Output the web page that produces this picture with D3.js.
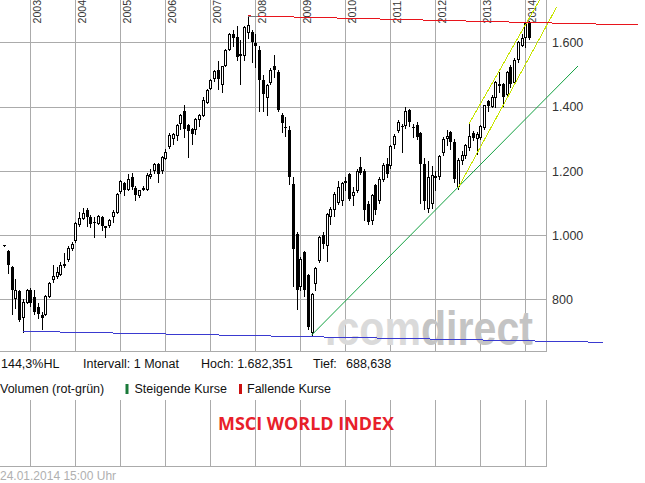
<!DOCTYPE html>
<html><head><meta charset="utf-8">
<script src="https://cdn.jsdelivr.net/npm/d3@7/dist/d3.min.js"></script>
<style>body{margin:0;background:#fff}svg{display:block}</style>
</head><body>
<svg id="c" width="645" height="483"></svg>
<script>
// ---- data ----
const months = ["2002-05","2002-06","2002-07","2002-08","2002-09","2002-10","2002-11","2002-12",
"2003-01","2003-02","2003-03","2003-04","2003-05","2003-06","2003-07","2003-08","2003-09","2003-10","2003-11","2003-12",
"2004-01","2004-02","2004-03","2004-04","2004-05","2004-06","2004-07","2004-08","2004-09","2004-10","2004-11","2004-12",
"2005-01","2005-02","2005-03","2005-04","2005-05","2005-06","2005-07","2005-08","2005-09","2005-10","2005-11","2005-12",
"2006-01","2006-02","2006-03","2006-04","2006-05","2006-06","2006-07","2006-08","2006-09","2006-10","2006-11","2006-12",
"2007-01","2007-02","2007-03","2007-04","2007-05","2007-06","2007-07","2007-08","2007-09","2007-10","2007-11","2007-12",
"2008-01","2008-02","2008-03","2008-04","2008-05","2008-06","2008-07","2008-08","2008-09","2008-10","2008-11","2008-12",
"2009-01","2009-02","2009-03","2009-04","2009-05","2009-06","2009-07","2009-08","2009-09","2009-10","2009-11","2009-12",
"2010-01","2010-02","2010-03","2010-04","2010-05","2010-06","2010-07","2010-08","2010-09","2010-10","2010-11","2010-12",
"2011-01","2011-02","2011-03","2011-04","2011-05","2011-06","2011-07","2011-08","2011-09","2011-10","2011-11","2011-12",
"2012-01","2012-02","2012-03","2012-04","2012-05","2012-06","2012-07","2012-08","2012-09","2012-10","2012-11","2012-12",
"2013-01","2013-02","2013-03","2013-04","2013-05","2013-06","2013-07","2013-08","2013-09","2013-10","2013-11","2013-12",
"2014-01"];
const opens = [968,952,900,805,826,745,792,830,
806,776,752,755,812,862,872,880,908,925,961,984,
1036,1053,1079,1056,1042,1039,1058,1028,1033,1059,1072,1136,
1162,1145,1181,1148,1124,1146,1145,1183,1202,1222,1202,1241,
1277,1303,1313,1349,1386,1342,1331,1331,1362,1373,1414,1459,
1490,1513,1470,1531,1580,1627,1616,1562,1560,1632,1632,1598,
1577,1482,1430,1476,1528,1508,1373,1338,1326,1160,1004,843,
947,875,700,852,923,999,970,1061,1082,1103,1110,1168,
1191,1124,1139,1212,1201,1098,1048,1155,1108,1175,1222,1217,
1285,1326,1340,1342,1390,1338,1342,1317,1221,1085,1100,1180,
1183,1259,1303,1321,1290,1152,1235,1248,1274,1317,1303,1307,
1336,1419,1401,1430,1471,1471,1440,1523,1477,1549,1591,1616,
1660];
const highs = [969,955,903,862,830,800,833,834,
828,789,762,814,855,906,901,916,944,966,978,1040,
1072,1085,1085,1062,1056,1064,1060,1030,1050,1077,1132,1172,
1165,1191,1193,1152,1142,1152,1192,1207,1225,1226,1245,1269,
1318,1318,1345,1378,1404,1345,1335,1365,1378,1431,1455,1485,
1515,1541,1527,1580,1630,1640,1650,1606,1652,1682.35,1640,1627,
1590,1500,1470,1520,1560,1515,1380,1367,1340,1181,1010,933,
952,880,820,900,997,1010,1070,1087,1135,1170,1165,1180,
1194,1150,1205,1243,1205,1105,1128,1160,1180,1225,1240,1282,
1315,1360,1345,1399,1394,1345,1352,1320,1240,1230,1215,1200,
1250,1305,1327,1325,1300,1240,1262,1285,1347,1325,1320,1342,
1406,1422,1435,1480,1507,1475,1510,1530,1550,1605,1625,1662,
1668];
const lows = [967,882,755,772,733,700,788,780,
755,741,708,750,808,855,866,875,900,920,955,980,
1030,1050,1030,1025,994,1035,1015,994,1025,1040,1068,1130,
1124,1140,1145,1110,1118,1140,1140,1178,1195,1165,1195,1238,
1270,1285,1295,1330,1305,1243,1285,1316,1340,1370,1410,1455,
1480,1455,1445,1528,1575,1590,1545,1471,1545,1615,1539,1523,
1388,1388,1373,1470,1492,1385,1321,1310,1160,843,771,830,
812,709,688.64,828,915,960,919,1036,1061,1098,1095,1140,
1110,1093,1135,1190,1046,1035,1035,1065,1100,1170,1180,1210,
1270,1320,1259,1335,1340,1305,1300,1100,1080,1072,1085,1140,
1175,1250,1282,1269,1165,1145,1220,1240,1265,1295,1253,1300,
1330,1385,1398,1400,1445,1401,1430,1460,1470,1540,1588,1585,
1610];
const closes = [968,906,829,830,736,792,830,788,
762,753,743,812,852,872,885,906,910,961,973,1038,
1053,1069,1056,1036,1040,1061,1027,1030,1046,1072,1129,1170,
1142,1176,1150,1124,1139,1148,1188,1191,1222,1191,1243,1259,
1313,1316,1342,1373,1331,1324,1316,1362,1375,1422,1453,1482,
1512,1485,1525,1575,1627,1615,1554,1565,1648,1655,1601,1590,
1482,1440,1466,1515,1513,1390,1349,1336,1181,958,828,927,
828,714,816,897,994,971,1066,1082,1129,1150,1162,1170,
1113,1134,1201,1193,1077,1041,1124,1077,1176,1218,1191,1279,
1310,1352,1336,1388,1352,1336,1305,1221,1106,1181,1186,1183,
1245,1300,1310,1290,1176,1233,1248,1280,1310,1303,1315,1339,
1404,1401,1430,1476,1463,1430,1508,1471,1544,1601,1614,1660,
1615];
const yearTicks = [2003,2004,2005,2006,2007,2008,2009,2010,2011,2012,2013,2014];
const priceTicks = [800,1000,1200,1400,1600];
const priceLabels = ["800","1.000","1.200","1.400","1.600"];
// trend lines: [time (fractional year), value] end points
const redLineT = [2007.8333, 2016.504];  const redLineV = [1682.35, 1654.2];
const blueLineT = [2002.8333, 2015.727]; const blueLineV = [700.7, 666.5];
const greenLineT = [2009.25, 2015.171];  const greenLineV = [688.64, 1526.5];
const yelLowT = [2012.5, 2014.698];      const yelLowV = [1145, 1710.2];
const yelUpT = [2012.75, 2014.33];       const yelUpV = [1347, 1735];
const infoTexts = ["144,3%HL","Intervall: 1 Monat","Hoch: 1.682,351","Tief:","688,638"];
const legendTexts = ["Volumen (rot-grün)","Steigende Kurse","Fallende Kurse"];
const titleText = "MSCI WORLD INDEX";
const dateText = "24.01.2014 15:00 Uhr";
const watermarkParts = [".com","direct"];

// ---- scales ----
const svg = d3.select("#c");
const x = d3.scaleLinear().domain([2003, 2014]).range([30.3, 525.3]);
const y = d3.scaleLinear().domain([800, 1600]).range([299.4, 42.4]);
const right = 546.5, bottom = 351.5;
const px = v => Math.round(v) + 0.5;

const grid = svg.append("g").attr("shape-rendering","crispEdges").attr("stroke","#ababab").attr("stroke-width",1);
grid.selectAll(".h").data(priceTicks).join("line")
  .attr("x1",0).attr("x2",right).attr("y1",d=>px(y(d))).attr("y2",d=>px(y(d)));
grid.selectAll(".v").data(yearTicks).join("line")
  .attr("x1",d=>px(x(d))).attr("x2",d=>px(x(d))).attr("y1",0).attr("y2",bottom);
grid.append("line").attr("x1",0).attr("x2",right).attr("y1",bottom).attr("y2",bottom);
grid.append("line").attr("x1",right).attr("x2",right).attr("y1",0).attr("y2",bottom);
const vTop = 400, vBot = 466.5;
grid.selectAll(".vv").data(yearTicks).join("line")
  .attr("x1",d=>px(x(d))).attr("x2",d=>px(x(d))).attr("y1",vTop).attr("y2",vBot);
grid.append("line").attr("x1",0).attr("x2",right).attr("y1",vBot).attr("y2",vBot);
grid.append("line").attr("x1",right).attr("x2",right).attr("y1",vTop).attr("y2",vBot);

// watermark (one word, two tones)
const wm = svg.append("text").attr("x",325).attr("y",345)
  .attr("font-family","'Liberation Sans Narrow','Liberation Sans',sans-serif").attr("font-weight","bold")
  .attr("font-size",48).attr("textLength",208).attr("lengthAdjust","spacingAndGlyphs");
wm.selectAll("tspan").data(watermarkParts).join("tspan")
  .attr("fill",(d,i)=>i===0?"#dadada":"#c4c4c4").text(d=>d);

// axis labels
svg.append("g").selectAll("text").data(priceTicks).join("text")
  .attr("x",552).attr("y",d=>y(d)+4.6).attr("font-family","'Liberation Sans',Arial,sans-serif")
  .attr("font-size",12.5).attr("fill","#333").text((d,i)=>priceLabels[i]);
svg.append("g").selectAll("text").data(yearTicks).join("text")
  .attr("transform",d=>`translate(${Math.round(x(d))+11},23.5) rotate(-90)`)
  .attr("font-family","'Liberation Sans',Arial,sans-serif").attr("font-size",10.6).attr("fill","#333")
  .text(d=>d);

// candles
const candles = months.map((m,i)=>{
  const [yy,mm] = m.split("-").map(Number);
  return {t: yy + mm/12, o: opens[i], h: highs[i], l: lows[i], c: closes[i]};
});
const cg = svg.append("g").attr("shape-rendering","crispEdges");
candles.forEach(d=>{
  const cx = Math.round(x(d.t));
  cg.append("line").attr("x1",cx+0.5).attr("x2",cx+0.5)
    .attr("y1",Math.round(y(d.h))).attr("y2",Math.round(y(d.l))+1).attr("stroke","#000");
  const top = Math.round(y(Math.max(d.o,d.c))), bot = Math.round(y(Math.min(d.o,d.c)));
  if (d.c > d.o) {
    cg.append("rect").attr("x",cx-0.5).attr("y",top+0.5).attr("width",2).attr("height",Math.max(bot-top,1))
      .attr("fill","#fff").attr("stroke","#000");
  } else {
    cg.append("rect").attr("x",cx-1).attr("y",top).attr("width",3).attr("height",Math.max(bot-top,1))
      .attr("fill","#000");
  }
});

// trend lines
const tl = svg.append("g").attr("fill","none").attr("stroke-width",1);
function seg(T,V,color,crisp){
  tl.append("line").attr("x1",x(T[0])).attr("y1",y(V[0])).attr("x2",x(T[1])).attr("y2",y(V[1]))
    .attr("stroke",color).attr("shape-rendering",crisp?"crispEdges":"auto");
}
seg(blueLineT, blueLineV, "#3a3ad0", true);
seg(greenLineT, greenLineV, "#12a040", false);
seg(yelLowT, yelLowV, "#c6e400", true);
seg(yelUpT, yelUpV, "#c6e400", true);
seg(redLineT, redLineV, "#e8141c", true);
tl.append("line").attr("x1",Math.round(x(redLineT[0]))).attr("x2",Math.round(x(redLineT[0]))+10)
  .attr("y1",px(y(redLineV[0]))).attr("y2",px(y(redLineV[0]))).attr("stroke","#777").attr("shape-rendering","crispEdges");

// info texts
const font = "'Liberation Sans',Arial,sans-serif";
const infoX = [1,83,201,313,346];
svg.append("g").selectAll("text").data(infoTexts).join("text")
  .attr("x",(d,i)=>infoX[i]).attr("y",368).attr("font-family",font).attr("font-size",12.5).attr("fill","#111").text(d=>d);
const legX = [0,134.5,247];
svg.append("g").selectAll("text").data(legendTexts).join("text")
  .attr("x",(d,i)=>legX[i]).attr("y",393.3).attr("font-family",font).attr("font-size",12.5).attr("fill","#111").text(d=>d);
svg.append("rect").attr("x",125.5).attr("y",384).attr("width",3).attr("height",10).attr("fill","#1a7a3a");
svg.append("rect").attr("x",239).attr("y",384).attr("width",3).attr("height",10).attr("fill","#cc1010");
svg.append("text").attr("x",306).attr("y",430).attr("text-anchor","middle")
  .attr("font-family","'Open Sans',sans-serif").attr("font-weight","bold").attr("font-size",17.5)
  .attr("textLength",176).attr("lengthAdjust","spacingAndGlyphs").attr("fill","#e8202a").text(titleText);
svg.append("text").attr("x",0).attr("y",480).attr("font-family",font).attr("font-size",12)
  .attr("fill","#b0b0b0").text(dateText);
</script>
</body></html>
